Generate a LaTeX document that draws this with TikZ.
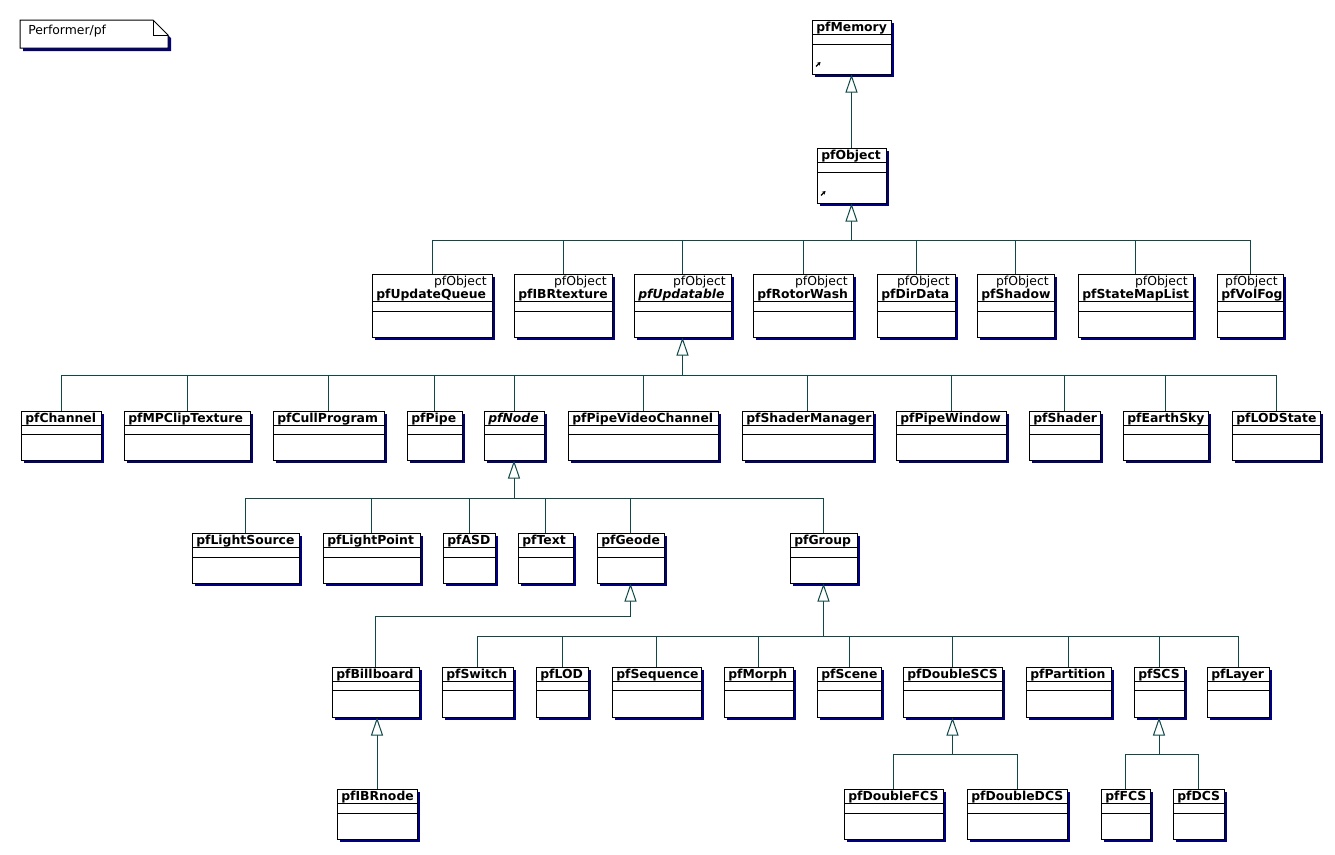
\documentclass[tikz,border=0pt]{standalone}
\usepackage{fontspec}
\setmainfont{DejaVu Sans}
\usetikzlibrary{arrows.meta,shadows,fit}
\definecolor{navyshade}{RGB}{0,0,128}
\definecolor{conncol}{RGB}{16,72,72}
\tikzset{
 cbox/.style={draw=black, line width=0.75pt, fill=white, inner sep=0pt,
   general shadow={fill=navyshade, shadow xshift=2.25pt, shadow yshift=-2.25pt}},
 divline/.style={draw=black, line width=0.75pt},
 lbl/.style={inner sep=0pt, font=\fontsize{9.3}{11}\selectfont\bfseries},
 ilbl/.style={inner sep=0pt, font=\fontsize{9.3}{11}\selectfont\bfseries\itshape},
 slbl/.style={inner sep=0pt, font=\fontsize{9.3}{11}\selectfont},
 conn/.style={draw=conncol, line width=0.75pt},
 inh/.style={conn, -{Triangle[open, length=13.5pt, width=9pt, fill=white]}},
 icon/.style={line width=1pt, -{Stealth[length=2.5pt, width=3pt]}},
}
% name x1 y1 x2 y2 d1 d2 label style
\newcommand\cls[9]{%
 \node[cbox, fit={(#2,#3) (#4,#5)}] (#1) {};
 \draw[divline] (#2,{#3+#6}) -- (#4,{#3+#6});
 \draw[divline] (#2,{#3+#7}) -- (#4,{#3+#7});
 \node[#9, anchor=base west] (#1-name) at ({#2+4},{#3+11}) {#8};
}
% name x1 y1 x2 y2 label style  (with stereotype pfObject)
\newcommand\scls[7]{%
 \node[cbox, fit={(#2,#3) (#4,#5)}] (#1) {};
 \draw[divline] (#2,{#3+27}) -- (#4,{#3+27});
 \draw[divline] (#2,{#3+37}) -- (#4,{#3+37});
 \node[slbl, anchor=base east] (#1-st) at ({#4-5},{#3+11}) {pfObject};
 \node[#7, anchor=base west] (#1-name) at ({#2+4},{#3+24}) {#6};
}
\begin{document}
\begin{tikzpicture}[x=0.75pt,y=-0.75pt]
\useasboundingbox (0,0) rectangle (1335,854);
% note
\fill[navyshade] (23,23) -- (156,23) -- (171,38) -- (171,51) -- (23,51) -- cycle;
\draw[fill=white, line width=0.75pt] (20,20) -- (153,20) -- (168,35) -- (168,48) -- (20,48) -- cycle;
\draw[line width=0.75pt] (153,20) -- (153,35) -- (168,35);
\node[slbl, anchor=base west] (note) at (28,34) {Performer/pf};

% row 1
\cls{mem}{812}{20}{891}{74}{14}{24}{pfMemory}{lbl}
\draw[icon] (816,66.5) -- (820.5,62);
\cls{obj}{817}{148}{886}{203}{14}{24}{pfObject}{lbl}
\draw[icon] (821,195.5) -- (825.5,191);

% row 2
\scls{uq}{372}{274}{492}{337}{pfUpdateQueue}{lbl}
\scls{ibrt}{514}{274}{612}{337}{pfIBRtexture}{lbl}
\scls{upd}{634}{274}{731}{337}{pfUpdatable}{ilbl}
\scls{rw}{753}{274}{853}{337}{pfRotorWash}{lbl}
\scls{dd}{877}{274}{955}{337}{pfDirData}{lbl}
\scls{sh}{977}{274}{1054}{337}{pfShadow}{lbl}
\scls{sml}{1078}{274}{1193}{337}{pfStateMapList}{lbl}
\scls{vf}{1217}{274}{1283}{337}{pfVolFog}{lbl}

% row 3
\cls{ch}{21}{411}{101}{460}{14}{23}{pfChannel}{lbl}
\cls{mpc}{124}{411}{250}{460}{14}{23}{pfMPClipTexture}{lbl}
\cls{cull}{273}{411}{384}{460}{14}{23}{pfCullProgram}{lbl}
\cls{pipe}{407}{411}{462}{460}{14}{23}{pfPipe}{lbl}
\cls{node}{484}{411}{544}{460}{14}{23}{pfNode}{ilbl}
\cls{pvc}{568}{411}{718}{460}{14}{23}{pfPipeVideoChannel}{lbl}
\cls{shm}{742}{411}{873}{460}{14}{23}{pfShaderManager}{lbl}
\cls{pw}{896}{411}{1006}{460}{14}{23}{pfPipeWindow}{lbl}
\cls{shd}{1029}{411}{1100}{460}{14}{23}{pfShader}{lbl}
\cls{es}{1123}{411}{1208}{460}{14}{23}{pfEarthSky}{lbl}
\cls{lods}{1232}{411}{1320}{460}{14}{23}{pfLODState}{lbl}

% row 4
\cls{ls}{192}{533}{299}{583}{14}{24}{pfLightSource}{lbl}
\cls{lp}{323}{533}{420}{583}{14}{24}{pfLightPoint}{lbl}
\cls{asd}{443}{533}{495}{583}{14}{24}{pfASD}{lbl}
\cls{txt}{518}{533}{573}{583}{14}{24}{pfText}{lbl}
\cls{geo}{597}{533}{664}{583}{14}{24}{pfGeode}{lbl}
\cls{grp}{790}{533}{857}{583}{14}{24}{pfGroup}{lbl}

% row 5
\cls{bb}{332}{667}{419}{717}{14}{23}{pfBillboard}{lbl}
\cls{sw}{442}{667}{513}{717}{14}{23}{pfSwitch}{lbl}
\cls{lod}{536}{667}{588}{717}{14}{23}{pfLOD}{lbl}
\cls{seq}{612}{667}{701}{717}{14}{23}{pfSequence}{lbl}
\cls{mor}{724}{667}{793}{717}{14}{23}{pfMorph}{lbl}
\cls{scn}{817}{667}{881}{717}{14}{23}{pfScene}{lbl}
\cls{dscs}{903}{667}{1002}{717}{14}{23}{pfDoubleSCS}{lbl}
\cls{part}{1026}{667}{1111}{717}{14}{23}{pfPartition}{lbl}
\cls{scs}{1134}{667}{1184}{717}{14}{23}{pfSCS}{lbl}
\cls{lay}{1207}{667}{1269}{717}{14}{23}{pfLayer}{lbl}

% row 6
\cls{ibrn}{337}{789}{417}{839}{14}{24}{pfIBRnode}{lbl}
\cls{dfcs}{844}{789}{943}{839}{14}{24}{pfDoubleFCS}{lbl}
\cls{ddcs}{967}{789}{1067}{839}{14}{24}{pfDoubleDCS}{lbl}
\cls{fcs}{1101}{789}{1150}{839}{14}{24}{pfFCS}{lbl}
\cls{dcs}{1173}{789}{1224}{839}{14}{24}{pfDCS}{lbl}

% connectors
\coordinate (y240) at (0,240);
\coordinate (y375) at (0,375);
\coordinate (y498) at (0,498);
\coordinate (y616) at (0,616);
\coordinate (y636) at (0,636);
\coordinate (y754) at (0,754);

\draw[inh] (obj.north) -- (obj.north |- mem.south);

\coordinate (objbar) at (obj.south |- y240);
\foreach \c in {uq,ibrt,upd,rw,dd,sh,sml,vf} \draw[conn] (\c.north) |- (objbar);
\draw[inh] (objbar) -- (obj.south);

\coordinate (updbar) at (upd.south |- y375);
\foreach \c in {ch,mpc,cull,pipe,node,pvc,shm,pw,shd,es,lods} \draw[conn] (\c.north) |- (updbar);
\draw[inh] (updbar) -- (upd.south);

\coordinate (nodebar) at (node.south |- y498);
\foreach \c in {ls,lp,asd,txt,geo,grp} \draw[conn] (\c.north) |- (nodebar);
\draw[inh] (nodebar) -- (node.south);

\coordinate (geobar) at (geo.south |- y616);
\draw[conn] (bb.north) |- (geobar);
\draw[inh] (geobar) -- (geo.south);

\coordinate (grpbar) at (grp.south |- y636);
\foreach \c in {sw,lod,seq,mor,scn,dscs,part,scs,lay} \draw[conn] (\c.north) |- (grpbar);
\draw[inh] (grpbar) -- (grp.south);

\draw[inh] (ibrn.north) -- (ibrn.north |- bb.south);

\coordinate (dscsbar) at (dscs.south |- y754);
\foreach \c in {dfcs,ddcs} \draw[conn] (\c.north) |- (dscsbar);
\draw[inh] (dscsbar) -- (dscs.south);

\coordinate (scsbar) at (scs.south |- y754);
\foreach \c in {fcs,dcs} \draw[conn] (\c.north) |- (scsbar);
\draw[inh] (scsbar) -- (scs.south);
\end{tikzpicture}
\end{document}
